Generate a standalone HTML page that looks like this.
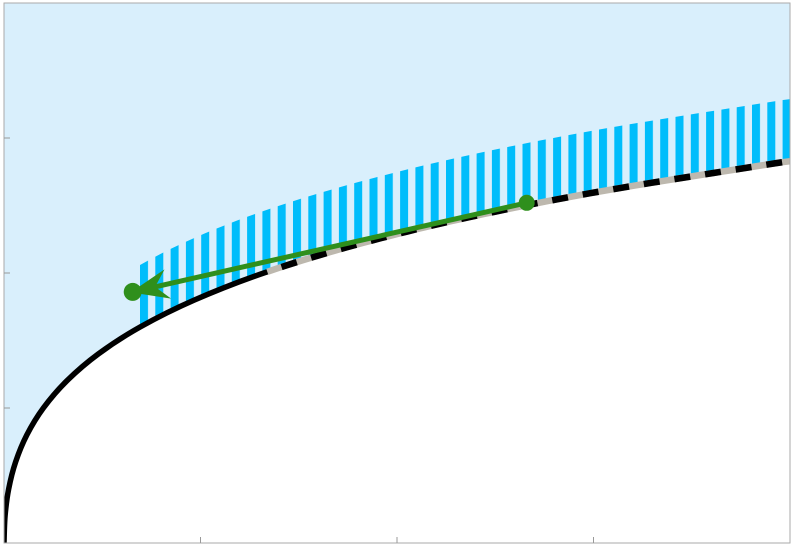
<!DOCTYPE html>
<html><head><meta charset="utf-8"><style>
html,body{margin:0;padding:0;background:#fff;width:800px;height:547px;overflow:hidden;font-family:"Liberation Sans",sans-serif}
</style></head><body>
<svg id="chart" width="800" height="547" xmlns="http://www.w3.org/2000/svg">
<defs>
<pattern id="stripes" patternUnits="userSpaceOnUse" x="140" y="0" width="15.3" height="10">
<rect x="0" y="0" width="8" height="10" fill="#00bdfb"/>
</pattern>
<clipPath id="plotclip"><rect x="4" y="3" width="786" height="540"/></clipPath>
</defs>
<g id="plot" clip-path="url(#plotclip)"></g>
<rect x="4" y="3" width="786" height="540" fill="none" stroke="#aaaaaa" stroke-width="1"/>
<g id="ticks"></g>
</svg>
<script>
// curve samples (x value, y value)
const curveX = [0, 0.0054, 0.0237, 0.059, 0.116, 0.2003, 0.3189, 0.4797, 0.6927, 0.9691, 1.322, 1.769, 2.326, 3.018, 3.869, 4.012];
const curveY = [0, 0.2, 0.4, 0.6, 0.8, 1.0, 1.2, 1.4, 1.6, 1.8, 2.0, 2.2, 2.4, 2.6, 2.8, 2.83];
const bandOffset = 0.46;
const bandStart = 0.69;
const dashStart = 1.34;
const arrowFrom = [2.66, 2.52];
const arrowTo = [0.655, 1.86];
const xTicks = [1, 2, 3];
const yTicks = [1, 2, 3];

const X0 = 4, X1 = 790, Y0 = 543, Y1 = 3;
const xs = v => X0 + v / 4 * (X1 - X0);
const ys = v => Y0 - v / 4 * (Y0 - Y1);
const NS = 'http://www.w3.org/2000/svg';
function mk(tag, attrs, parent) {
  const e = document.createElementNS(NS, tag);
  for (const k in attrs) e.setAttribute(k, attrs[k]);
  parent.appendChild(e);
  return e;
}
function smooth(pts) {
  let d = 'M' + pts[0][0] + ',' + pts[0][1];
  for (let i = 0; i < pts.length - 1; i++) {
    const p0 = pts[Math.max(0, i - 1)], p1 = pts[i], p2 = pts[i + 1], p3 = pts[Math.min(pts.length - 1, i + 2)];
    const c1 = [p1[0] + (p2[0] - p0[0]) / 6, p1[1] + (p2[1] - p0[1]) / 6];
    const c2 = [p2[0] - (p3[0] - p1[0]) / 6, p2[1] - (p3[1] - p1[1]) / 6];
    d += ' C' + c1[0] + ',' + c1[1] + ' ' + c2[0] + ',' + c2[1] + ' ' + p2[0] + ',' + p2[1];
  }
  return d;
}
const plot = document.getElementById('plot');
const bg = mk('rect', {x: X0, y: Y1, width: X1 - X0, height: Y0 - Y1, fill: '#d9effc'}, plot);



const pts = curveX.map((x, i) => [xs(x), ys(curveY[i])]);
const curveD = smooth(pts);
const under = mk('path', {d: curveD + ' L' + xs(4.2) + ',' + ys(2.83) + ' L' + xs(4.2) + ',' + ys(-0.1) + ' L' + xs(0) + ',' + ys(-0.1) + ' Z', fill: '#ffffff'}, plot);



const probe = mk('path', {d: curveD, fill: 'none', stroke: 'none'}, plot);


const L = probe.getTotalLength();
const samples = [];
for (let i = 0; i <= 600; i++) samples.push(probe.getPointAtLength(L * i / 600));
function yAtPx(px) {
  for (let i = 0; i < samples.length - 1; i++) {
    if (px <= samples[i + 1].x) {
      const a = samples[i], b = samples[i + 1];
      const t = (px - a.x) / ((b.x - a.x) || 1);
      return a.y + t * (b.y - a.y);
    }
  }
  return samples[samples.length - 1].y;
}
const offPx = bandOffset / 4 * (Y0 - Y1);

// band
const lowPts = [], upPts = [];
const nb = 60;
for (let i = 0; i <= nb; i++) {
  const px = xs(bandStart) + (X1 + 2 - xs(bandStart)) * i / nb;
  const py = yAtPx(px);
  lowPts.push([px, py + 1]);
  upPts.push([px, py - offPx]);
}
const bandD = 'M' + upPts.map(p => p[0] + ',' + p[1]).join(' L') + ' L' + lowPts.slice().reverse().map(p => p[0] + ',' + p[1]).join(' L') + ' Z';
const band = mk('path', {d: bandD, fill: 'url(#stripes)'}, plot);



const curve = mk('path', {d: curveD, fill: 'none', stroke: '#000', 'stroke-width': 5.5}, plot);



// dashed segment
const dPts = [];
for (let i = 0; i <= 60; i++) {
  const px = xs(dashStart) + (X1 + 2 - xs(dashStart)) * i / 60;
  dPts.push([px, yAtPx(px)]);
}
const dD = 'M' + dPts.map(p => p[0] + ',' + p[1]).join(' L');
const dg = mk('path', {d: dD, fill: 'none', stroke: '#bdb8ae', 'stroke-width': 6.5}, plot);


const db = mk('path', {d: dD, fill: 'none', stroke: '#000', 'stroke-width': 6.5, 'stroke-dasharray': '16 15', 'stroke-dashoffset': '-15'}, plot);



// arrow
const ax1 = xs(arrowFrom[0]), ay1 = ys(arrowFrom[1]), ax2 = xs(arrowTo[0]), ay2 = ys(arrowTo[1]);
const ang = Math.atan2(ay2 - ay1, ax2 - ax1);
const ux = Math.cos(ang), uy = Math.sin(ang), px = -uy, py = ux;
const line = mk('line', {x1: ax1, y1: ay1, x2: ax2 - ux * 12, y2: ay2 - uy * 12, stroke: '#2f8f1c', 'stroke-width': 5}, plot);


const tipx = ax2 + ux * 2, tipy = ay2 + uy * 2;
const bx = tipx - ux * 38, by = tipy - uy * 38;
const mx = tipx - ux * 25, my = tipy - uy * 25;
const head = mk('path', {d: `M${tipx},${tipy} L${bx + px * 15},${by + py * 15} L${mx},${my} L${bx - px * 15},${by - py * 15} Z`, fill: '#2f8f1c'}, plot);


const d1 = mk('circle', {cx: ax1, cy: ay1, r: 8, fill: '#2f8f1c'}, plot);


const d2 = mk('circle', {cx: ax2, cy: ay2, r: 9, fill: '#2f8f1c'}, plot);



// ticks
const tg = document.getElementById('ticks');
xTicks.forEach(t => {
  const l = mk('line', {x1: xs(t), x2: xs(t), y1: Y0, y2: Y0 - 6, stroke: '#999', 'stroke-width': 1}, tg);
  
  
});
yTicks.forEach(t => {
  const l = mk('line', {x1: X0, x2: X0 + 6, y1: ys(t), y2: ys(t), stroke: '#999', 'stroke-width': 1}, tg);
  
  
});
</script>
</body></html>
